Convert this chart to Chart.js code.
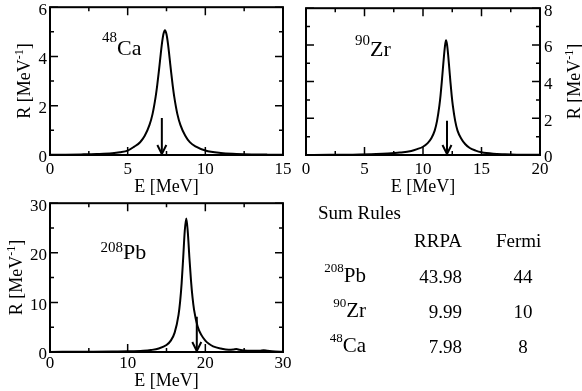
<!DOCTYPE html>
<html>
<head>
<meta charset="utf-8">
<script src="https://cdn.jsdelivr.net/npm/chart.js@4"></script>
<style>
  body { margin: 0; width: 582px; height: 391px; background: #fff; position: relative; overflow: hidden; font-family: "Liberation Serif", "Times New Roman", serif; color: #000; }
  .box { position: absolute; }
  .t { position: absolute; white-space: nowrap; line-height: 1; }
</style>
</head>
<body>
<div class="box" style="left:0;top:-6px"><canvas id="caChart" width="300" height="206"></canvas></div>
<div class="box" style="left:290px;top:-6px"><canvas id="zrChart" width="292" height="206"></canvas></div>
<div class="box" style="left:0;top:190px"><canvas id="pbChart" width="300" height="201"></canvas></div>
<div id="sumRules"></div>
<script>
const FONT = "'Liberation Serif', serif";
Chart.defaults.font.family = FONT;
Chart.defaults.font.size = 17;
Chart.defaults.color = "#000";

// 48Ca response
const caE = [0, 1, 2, 3, 4, 4.5, 5, 5.4, 5.8, 6.1, 6.4, 6.6, 6.8, 6.9, 7.0, 7.1, 7.2, 7.3, 7.4, 7.5,
  7.6, 7.7, 7.8, 7.9, 8.0, 8.2, 8.4, 8.7, 9.0, 9.4, 10, 11, 12, 13, 14, 15];
const caR = [0.01, 0.015, 0.025, 0.04, 0.07, 0.11, 0.18, 0.33, 0.52, 0.78, 1.21, 1.66, 2.36, 2.82, 3.35, 3.93, 4.49, 4.9, 5.06, 4.9,
  4.49, 3.93, 3.35, 2.82, 2.36, 1.66, 1.21, 0.79, 0.52, 0.34, 0.18, 0.08, 0.045, 0.025, 0.015, 0.01];
const caArrow = [7.2, 1.5];

// 90Zr response
const zrE = [0, 2, 4, 6, 7, 8, 9, 9.5, 10, 10.4, 10.7, 11.0, 11.2, 11.4, 11.5, 11.6, 11.7, 11.8, 11.9, 11.97,
  12.05, 12.15, 12.25, 12.35, 12.45, 12.55, 12.75, 12.95, 13.3, 13.6, 14, 14.5, 15, 16, 17, 18, 20];
const zrR = [0.005, 0.01, 0.02, 0.05, 0.08, 0.13, 0.22, 0.32, 0.45, 0.65, 0.9, 1.33, 1.86, 2.69, 3.25, 3.94, 4.7, 5.45, 6.04, 6.26,
  6.04, 5.45, 4.7, 3.94, 3.25, 2.69, 1.86, 1.33, 0.86, 0.6, 0.38, 0.24, 0.15, 0.07, 0.04, 0.02, 0.01];
const zrArrow = [12.05, 1.87];

// 208Pb response
const pbE = [0, 5, 8, 10, 12, 13, 14, 15, 15.55, 16.05, 16.55, 16.75, 16.95, 17.15, 17.35, 17.55, 17.75, 17.95, 18.15, 18.35,
  18.55, 19.0, 19.5, 20, 20.5, 21, 22, 23, 23.6, 24, 24.4, 25, 26, 27, 27.5, 28, 29, 30];
const pbR = [0.02, 0.05, 0.08, 0.13, 0.25, 0.4, 0.7, 1.4, 2.3, 3.9, 7.5, 10.1, 13.9, 19, 24.4, 26.9, 24, 19, 14.5, 11,
  8.5, 5.2, 3.4, 2.3, 1.6, 1.15, 0.7, 0.45, 0.5, 0.6, 0.45, 0.3, 0.25, 0.25, 0.35, 0.25, 0.1, 0.05];
const pbArrow = [18.9, 7.1];

// sum rules table
const tableMass = ["208", "90", "48"];
const tableSym = ["Pb", "Zr", "Ca"];
const rrpaSum = ["43.98", "9.99", "7.98"];
const fermiSum = ["44", "10", "8"];

function isMajor(v, step) {
  const r = v / step;
  return Math.abs(r - Math.round(r)) < 1e-6;
}

function drawParts(ctx, parts, x, y) {
  // parts: [text, size, dy]; drawn left to right from x on baseline y
  let cx = x;
  parts.forEach(([t, size, dy]) => {
    ctx.font = `${size}px ${FONT}`;
    ctx.fillText(t, cx, y + dy);
    cx += ctx.measureText(t).width;
  });
  return cx - x;
}

function partsWidth(ctx, parts) {
  return parts.reduce((w, [t, size]) => {
    ctx.font = `${size}px ${FONT}`;
    return w + ctx.measureText(t).width;
  }, 0);
}

const yTitleParts = [["R [MeV", 18, 0], ["-1", 12, -7], ["]", 18, 0]];

const panelDecor = {
  id: "panelDecor",
  afterDatasetsDraw(chart, args, o) {
    const { ctx, chartArea: a, scales: { x, y } } = chart;
    ctx.save();
    ctx.strokeStyle = "#000";
    ctx.fillStyle = "#000";
    ctx.lineWidth = 1.5;
    ctx.beginPath();
    for (let v = x.min; v <= x.max + 1e-9; v += o.xMinor) {
      const px = x.getPixelForValue(v);
      const len = isMajor(v, o.xMajor) ? 8 : 4;
      ctx.moveTo(px, a.bottom); ctx.lineTo(px, a.bottom - len);
      ctx.moveTo(px, a.top); ctx.lineTo(px, a.top + len);
    }
    for (let v = y.min; v <= y.max + 1e-9; v += o.yMinor) {
      const py = y.getPixelForValue(v);
      const len = isMajor(v, o.yMajor) ? 8 : 4;
      ctx.moveTo(a.left, py); ctx.lineTo(a.left + len, py);
      ctx.moveTo(a.right, py); ctx.lineTo(a.right - len, py);
    }
    ctx.stroke();

    ctx.lineWidth = 2;
    ctx.strokeRect(a.left, a.top, a.right - a.left, a.bottom - a.top);

    // arrow head at the bottom point of the arrow dataset
    const tip = chart.getDatasetMeta(1).data[1];
    ctx.beginPath();
    ctx.moveTo(tip.x - 4.5, tip.y - 10);
    ctx.lineTo(tip.x, tip.y - 1);
    ctx.lineTo(tip.x + 4.5, tip.y - 10);
    ctx.stroke();

    // axis titles
    ctx.textBaseline = "alphabetic";
    ctx.font = `18px ${FONT}`;
    ctx.textAlign = "center";
    ctx.fillText("E [MeV]", (a.left + a.right) / 2, o.xTitleY);
    ctx.textAlign = "left";
    const w = partsWidth(ctx, yTitleParts);
    ctx.save();
    ctx.translate(o.yTitleX, (a.top + a.bottom) / 2);
    ctx.rotate(-Math.PI / 2);
    drawParts(ctx, yTitleParts, -w / 2, 6);
    ctx.restore();

    // nucleus label
    ctx.font = `15px ${FONT}`;
    ctx.textAlign = "right";
    ctx.fillText(o.mass, o.symX, o.massY);
    ctx.font = `22px ${FONT}`;
    ctx.textAlign = "left";
    ctx.fillText(o.sym, o.symX, o.symY);
    ctx.restore();
  }
};

function makePanel(id, E, R, arrow, p) {
  return new Chart(document.getElementById(id), {
    type: "scatter",
    data: {
      datasets: [
        {
          data: E.map((e, i) => ({ x: e, y: R[i] })),
          showLine: true,
          borderColor: "#000",
          borderWidth: 2,
          pointRadius: 0,
          cubicInterpolationMode: "monotone",
        },
        {
          data: [{ x: arrow[0], y: arrow[1] }, { x: arrow[0], y: 0 }],
          showLine: true,
          borderColor: "#000",
          borderWidth: 2,
          pointRadius: 0,
        },
      ],
    },
    options: {
      responsive: false,
      animation: false,
      devicePixelRatio: 1,
      layout: { padding: p.pad },
      plugins: { legend: { display: false }, tooltip: { enabled: false }, panelDecor: p.decor },
      scales: {
        x: {
          type: "linear", min: 0, max: p.xMax,
          grid: { display: false, drawTicks: false }, border: { display: false },
          ticks: { stepSize: p.xStep, font: { family: FONT, size: 17 }, color: "#000", padding: p.xPad, maxRotation: 0 },
          afterFit: (s) => { s.height = p.xH; },
        },
        y: {
          type: "linear", position: p.yPos, min: 0, max: p.yMax,
          grid: { display: false, drawTicks: false }, border: { display: false },
          ticks: { stepSize: p.yStep, font: { family: FONT, size: 17 }, color: "#000", padding: p.yPad, labelOffset: 3 },
          afterFit: (s) => { s.width = p.yW; },
        },
      },
    },
    plugins: [panelDecor],
  });
}

makePanel("caChart", caE, caR, caArrow, {
  pad: { left: 0, top: 12, right: 17, bottom: 0 },
  xMax: 15, xStep: 5, yMax: 6, yStep: 2, xH: 45, yW: 50, yPos: "left", xPad: 4, yPad: 3,
  decor: { xMajor: 5, xMinor: 2.5, yMajor: 2, yMinor: 1, xTitleY: 198, yTitleX: 24,
    mass: "48", sym: "Ca", symX: 117, massY: 48, symY: 61 },
});

makePanel("zrChart", zrE, zrR, zrArrow, {
  pad: { left: 16, top: 12, right: 0, bottom: 0 },
  xMax: 20, xStep: 5, yMax: 8, yStep: 2, xH: 45, yW: 42, yPos: "right", xPad: 4, yPad: 4,
  decor: { xMajor: 5, xMinor: 2.5, yMajor: 2, yMinor: 1, xTitleY: 198, yTitleX: 284,
    mass: "90", sym: "Zr", symX: 80, massY: 51, symY: 62 },
});

makePanel("pbChart", pbE, pbR, pbArrow, {
  pad: { left: 0, top: 12, right: 17, bottom: 0 },
  xMax: 30, xStep: 10, yMax: 30, yStep: 10, xH: 39, yW: 50, yPos: "left", xPad: 1, yPad: 3,
  decor: { xMajor: 10, xMinor: 5, yMajor: 10, yMinor: 5, xTitleY: 196, yTitleX: 16,
    mass: "208", sym: "Pb", symX: 123, massY: 62, symY: 69 },
});

// sum rules table as html text
function place(html, size, baseline, opts) {
  const d = document.createElement("div");
  d.className = "t";
  d.style.fontSize = size + "px";
  d.style.top = (baseline - 0.8375 * size) + "px";
  if (opts.left !== undefined) d.style.left = opts.left + "px";
  if (opts.right !== undefined) { d.style.right = (582 - opts.right) + "px"; d.style.textAlign = "right"; }
  if (opts.center !== undefined) { d.style.left = (opts.center - 40) + "px"; d.style.width = "80px"; d.style.textAlign = "center"; }
  d.innerHTML = html;
  document.getElementById("sumRules").appendChild(d);
}

place("Sum Rules", 19, 219, { left: 318 });
place("RRPA", 19, 247, { right: 462 });
place("Fermi", 19, 247, { left: 496 });
const rowBase = [283, 318, 353];
tableSym.forEach((s, i) => {
  place(`<span style="font-size:13px;position:relative;top:-10px">${tableMass[i]}</span>${s}`, 21, rowBase[i], { right: 366 });
  place(rrpaSum[i], 19, rowBase[i], { right: 462 });
  place(fermiSum[i], 19, rowBase[i], { center: 523 });
});
</script>
</body>
</html>
